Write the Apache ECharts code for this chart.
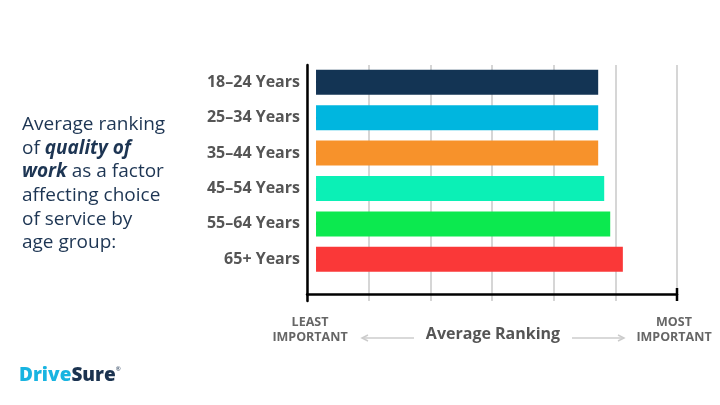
<!DOCTYPE html>
<html><head><meta charset="utf-8">
<script src="https://cdn.jsdelivr.net/npm/echarts@6/dist/echarts.min.js"></script>
<style>html,body{margin:0;padding:0;background:#fff}#c{width:720px;height:405px}</style>
</head><body><div id="c"></div>
<script>
var categories = ['18–24 Years','25–34 Years','35–44 Years','45–54 Years','55–64 Years','65+ Years'];
var values = [4.69, 4.69, 4.69, 4.79, 4.89, 5.10];
var colors = ['#133454','#00B6DF','#F7922B','#0BF0B6','#0CE94F','#FA3838'];

var chart = echarts.init(document.getElementById('c'), null, {renderer:'canvas'});
var font = '"Open Sans", Lato, sans-serif';
chart.setOption({
  animation:false,
  grid:[
    {left:307, right:43, top:65, bottom:104},
    {left:307, right:43, top:64.5, bottom:128}
  ],
  xAxis:[
    {gridIndex:0, type:'value', min:0, max:6, interval:1, offset:-7,
     axisLine:{show:true, lineStyle:{color:'#000', width:2.5}},
     axisTick:{show:false}, axisLabel:{show:false},
     splitLine:{show:true, lineStyle:{color:'#c8c8c8', width:1.5}}},
    {gridIndex:1, type:'value', min:-0.15, max:6, show:false, splitLine:{show:false}}
  ],
  yAxis:[
    {gridIndex:0, type:'value', min:0, max:1, axisLine:{show:true, lineStyle:{color:'#000', width:2.5}},
     axisTick:{show:false}, axisLabel:{show:false}, splitLine:{show:false}},
    {gridIndex:1, type:'category', data:categories, inverse:true,
     axisLine:{show:false},
     axisTick:{show:true, inside:true, length:9, alignWithLabel:true, lineStyle:{color:'#000', width:2}},
     axisLabel:{margin:7, color:'#555', fontSize:16, fontWeight:'bold', fontFamily:font}}
  ],
  series:[{
    type:'bar', xAxisIndex:1, yAxisIndex:1, barWidth:25,
    data: values.map(function(v,i){return {value:v, itemStyle:{color:colors[i]}};})
  }],
  graphic:[
    {type:'line', z:100, shape:{x1:677, y1:288, x2:677, y2:301}, style:{stroke:'#000', lineWidth:2.5}},
    {type:'text', left:22, top:113, style:{
      text:'Average ranking\nof {bi|quality of}\n{bi|work} as a factor\naffecting choice\nof service by\nage group:',
      fill:'#1d3553', font:'19px '+font, lineHeight:23.6,
      rich:{bi:{fill:'#1d3553', fontStyle:'italic', fontWeight:'bold', fontSize:19, fontFamily:font}}
    }},
    {type:'text', x:310, y:315, style:{text:'LEAST\nIMPORTANT', align:'center', fill:'#666', font:'bold 12.5px '+font, lineHeight:15}},
    {type:'text', x:674, y:315, style:{text:'MOST\nIMPORTANT', align:'center', fill:'#666', font:'bold 12.5px '+font, lineHeight:15}},
    {type:'text', x:493, y:326, style:{text:'Average Ranking', align:'center', fill:'#555', font:'bold 16px '+font}},
    {type:'line', shape:{x1:362, y1:338, x2:414, y2:338}, style:{stroke:'#ccc', lineWidth:1.5}},
    {type:'polyline', shape:{points:[[368,335],[362,338],[368,341]]}, style:{stroke:'#ccc', lineWidth:1.5, fill:null}},
    {type:'line', shape:{x1:572, y1:338, x2:624, y2:338}, style:{stroke:'#ccc', lineWidth:1.5}},
    {type:'polyline', shape:{points:[[618,335],[624,338],[618,341]]}, style:{stroke:'#ccc', lineWidth:1.5, fill:null}},
    {type:'text', left:19, top:366, style:{
      text:'{d|Drive}{s|Sure}{r|®}',
      rich:{
        d:{fill:'#18B4E1', fontSize:19, fontWeight:800, fontFamily:font},
        s:{fill:'#1B3350', fontSize:19, fontWeight:800, fontFamily:font},
        r:{fill:'#1B3350', fontSize:6, fontFamily:font, verticalAlign:'top', padding:[0,0,9,0]}
      }
    }}
  ]
});
</script></body></html>
